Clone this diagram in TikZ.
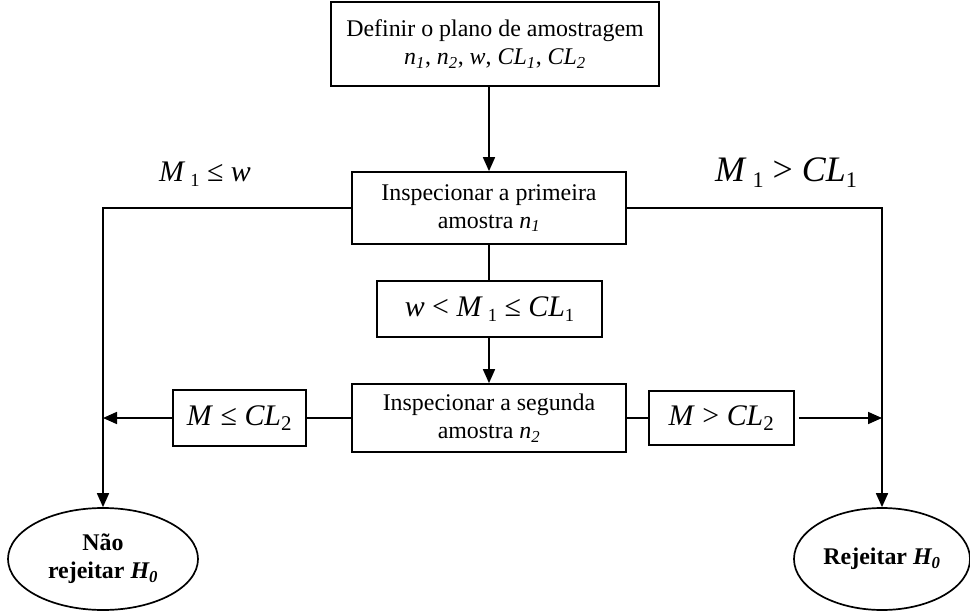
\documentclass[tikz,border=0pt]{standalone}
\usepackage{fontspec}
\setmainfont{Liberation Serif}
\usetikzlibrary{arrows.meta,shapes.geometric,calc}
\newcommand\sbi[1]{\textsubscript{\itshape #1}}
\newcommand\sbr[1]{\textsubscript{#1}}
\newcommand\sblow[1]{\raisebox{-0.35ex}{\fontsize{0.62em}{0.7em}\selectfont #1}}
\begin{document}
\begin{tikzpicture}[x=1bp,y=-1bp,
  line width=1.7bp,
  box/.style={draw,rectangle,align=center,inner sep=0pt,font=\fontsize{24}{28}\selectfont},
  condbox/.style={draw,rectangle,align=center,inner sep=0pt,font=\fontsize{30}{32}\selectfont},
  endnode/.style={draw,ellipse,align=center,inner sep=0pt,font=\fontsize{24}{28}\selectfont\bfseries},
  lbl/.style={inner sep=0pt},
  arr/.style={-{Triangle[length=14bp,width=12bp]}}]
\useasboundingbox (0,0) rectangle (970,612);
\node[box,minimum width=328bp,minimum height=84bp] (top) at (495,44)
  {Definir o plano de amostragem\\ \textit{n\sbi{1}}, \textit{n\sbi{2}}, \textit{w}, \textit{CL\sbi{1}}, \textit{CL\sbi{2}}};
\node[box,minimum width=274bp,minimum height=72bp] (b2) at (489,208)
  {Inspecionar a primeira\\ amostra \textit{n\sbi{1}}};
\node[condbox,minimum width=225bp,minimum height=56bp] (mid) at (489.5,309)
  {\textit{w} {<} \textit{M}\,\sblow{1} ≤ \textit{CL}\sblow{1}};
\node[box,minimum width=274bp,minimum height=68bp] (b3) at (489,418)
  {Inspecionar a segunda\\ amostra \textit{n\sbi{2}}};
\node[condbox,minimum width=133bp,minimum height=56bp] (le) at (239.5,418)
  {\textit{M} ≤ \textit{CL}\sbr{2}};
\node[condbox,minimum width=145bp,minimum height=54bp] (gt) at (721.5,418)
  {\textit{M} > \textit{CL}\sbr{2}};
\node[endnode,minimum width=190bp,minimum height=102bp] (nrej) at (103,559)
  {Não\\ rejeitar \textit{H\sbi{0}}};
\node[endnode,minimum width=176bp,minimum height=102bp] (rej) at (882,559)
  {Rejeitar \textit{H\sbi{0}}};
\node[lbl,font=\fontsize{30}{32}\selectfont] (l1) at (205,174)
  {\textit{M}\,\sblow{1} ≤ \textit{w}};
\node[lbl,font=\fontsize{36}{38}\selectfont] (l2) at (786,173)
  {\textit{M}\,\sblow{1} > \textit{CL}\sblow{1}};
\draw[arr] (b2.north |- top.south) -- (b2.north);
\draw[arr] (b2.west) -| (nrej.north);
\draw[arr] (b2.east) -| (rej.north);
\draw (b2.south) -- (mid.north -| b2.south);
\draw[arr] (mid.south -| b3.north) -- (b3.north);
\draw (b3.west) -- (le.east);
\draw (b3.east) -- (gt.west);
\draw[arr] (le.west) -- (le.west -| nrej.north);
\draw[arr] ([xshift=4bp]gt.east) -- (gt.east -| rej.north);
\end{tikzpicture}
\end{document}
